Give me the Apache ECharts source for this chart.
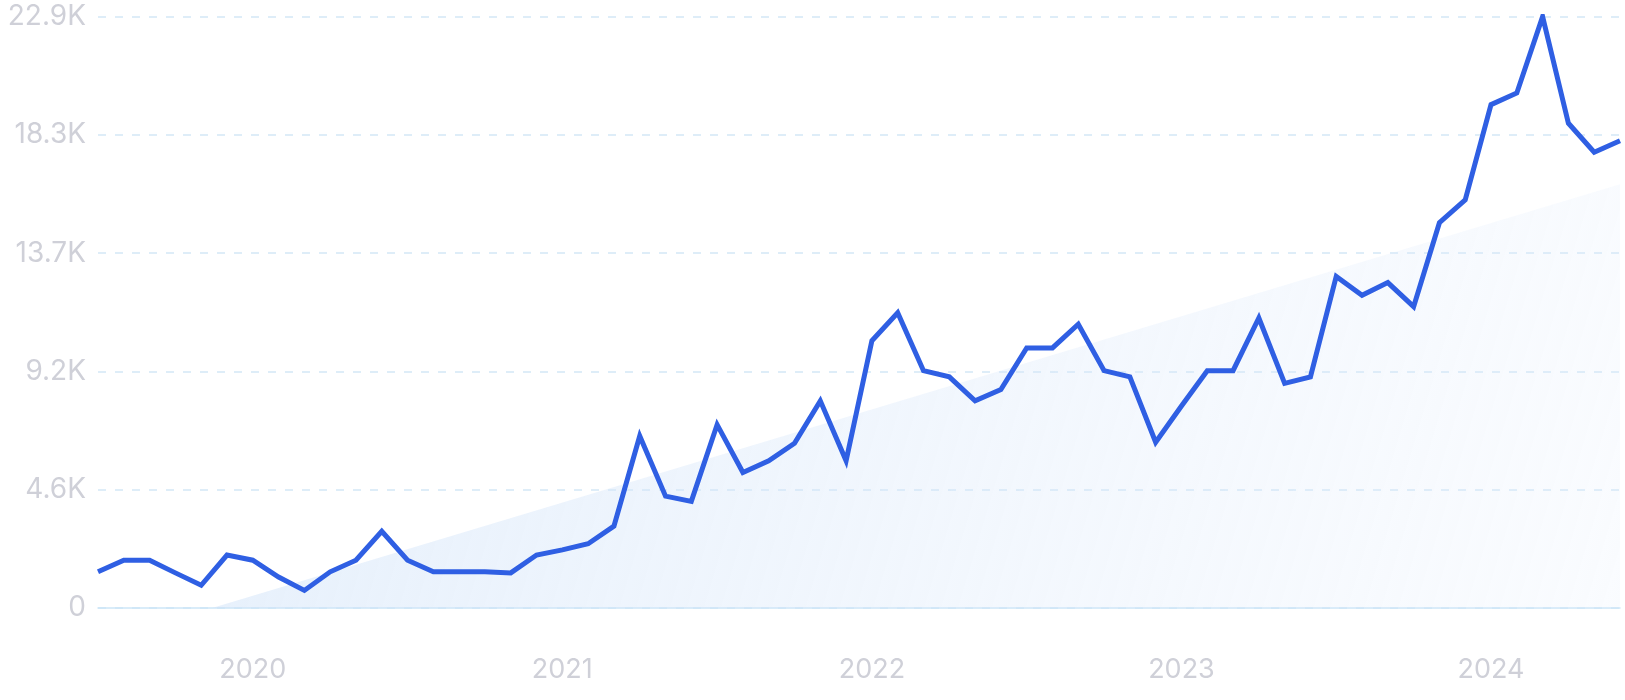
<!DOCTYPE html>
<html>
<head>
<meta charset="utf-8">
<script src="https://cdn.jsdelivr.net/npm/echarts@6/dist/echarts.min.js"></script>
<style>
html,body{margin:0;padding:0;background:#fff;}
#chart{width:1625px;height:700px;}
</style>
</head>
<body>
<div id="chart"></div>
<script>
// Monthly categories Jul 2019 .. Jun 2024
const months = [
  '2019-07','2019-08','2019-09','2019-10','2019-11','2019-12',
  '2020-01','2020-02','2020-03','2020-04','2020-05','2020-06','2020-07','2020-08','2020-09','2020-10','2020-11','2020-12',
  '2021-01','2021-02','2021-03','2021-04','2021-05','2021-06','2021-07','2021-08','2021-09','2021-10','2021-11','2021-12',
  '2022-01','2022-02','2022-03','2022-04','2022-05','2022-06','2022-07','2022-08','2022-09','2022-10','2022-11','2022-12',
  '2023-01','2023-02','2023-03','2023-04','2023-05','2023-06','2023-07','2023-08','2023-09','2023-10','2023-11','2023-12',
  '2024-01','2024-02','2024-03','2024-04','2024-05','2024-06'
];
// Search volume (thousands)
const volume = [
  1.40, 1.85, 1.85, 1.36, 0.88, 2.05,
  1.85, 1.20, 0.68, 1.40, 1.85, 2.97, 1.85, 1.40, 1.40, 1.40, 1.36, 2.05,
  2.25, 2.49, 3.17, 6.66, 4.33, 4.13, 7.10, 5.25, 5.70, 6.38, 8.02, 5.70,
  10.35, 11.43, 9.19, 8.95, 8.02, 8.46, 10.07, 10.07, 10.99, 9.19, 8.95, 6.42,
  7.82, 9.19, 9.19, 11.23, 8.70, 8.95, 12.84, 12.11, 12.60, 11.67, 14.92, 15.80,
  19.49, 19.94, 22.90, 18.77, 17.65, 18.09
];
// Trend line endpoints (thousands)
const trendStart = -1.33;
const trendEnd = 16.41;
// Y axis ticks (thousands)
const yTicks = [0, 4.58, 9.16, 13.74, 18.32, 22.9];

const chart = echarts.init(document.getElementById('chart'));
const labelColor = '#cfd0d8';
chart.setOption({
  animation: false,
  grid: { left: 98, right: 5, top: 16.6, bottom: 92, containLabel: false },
  xAxis: {
    type: 'category',
    data: months,
    boundaryGap: false,
    axisTick: { show: false },
    axisLine: { show: true, lineStyle: { color: '#cde6f8', width: 1.5 } },
    splitLine: { show: false },
    axisLabel: {
      interval: function (i, v) { return v.slice(5) === '01'; },
      formatter: function (v) { return v.slice(0, 4); },
      color: labelColor,
      fontFamily: 'Inter',
      fontSize: 27,
      margin: 48
    }
  },
  yAxis: {
    type: 'value',
    min: yTicks[0],
    max: yTicks[yTicks.length - 1],
    interval: yTicks[1],
    axisLine: { show: false },
    axisTick: { show: false },
    splitLine: { show: true, lineStyle: { color: '#d3e8f6', width: 1.5, type: [8, 9] } },
    axisLabel: {
      color: labelColor,
      fontFamily: 'Inter',
      fontSize: 28,
      margin: 12,
      formatter: function (v) { return v === 0 ? '0' : v.toFixed(1) + 'K'; }
    }
  },
  series: [
    {
      type: 'line',
      data: [[months[0], trendStart], [months[months.length - 1], trendEnd]],
      symbol: 'none',
      silent: true,
      clip: true,
      lineStyle: { width: 0 },
      areaStyle: {
        origin: 0,
        color: new echarts.graphic.LinearGradient(0, 0, 1, 1, [
          { offset: 0, color: 'rgba(205,225,248,0.8)' },
          { offset: 1, color: 'rgba(225,236,252,0.25)' }
        ])
      },
      z: 1
    },
    {
      type: 'line',
      data: volume,
      symbol: 'none',
      lineStyle: { color: '#2f5fe3', width: 5, join: 'miter' },
      z: 3
    }
  ]
});
</script>
</body>
</html>
